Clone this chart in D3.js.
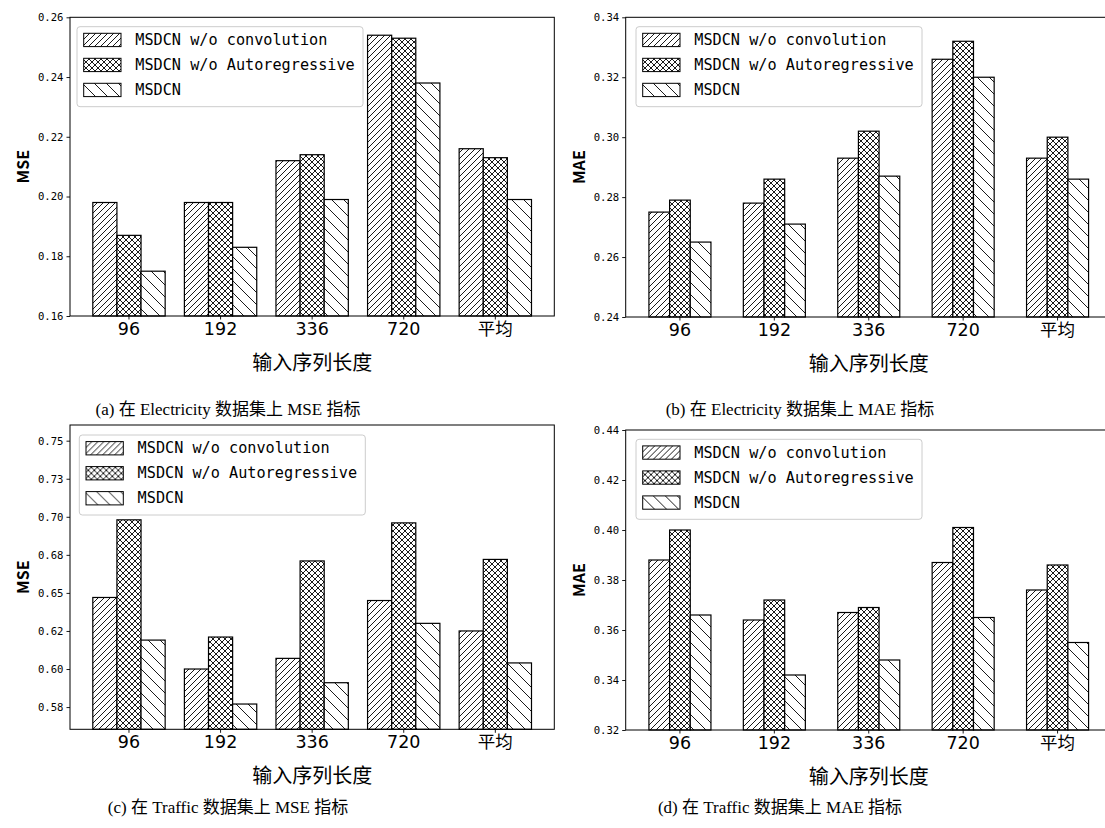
<!DOCTYPE html>
<html>
<head>
<meta charset="utf-8">
<script src="https://cdn.jsdelivr.net/npm/d3@7"></script>
<style>
  html, body { margin: 0; padding: 0; background: #fff; }
  svg { display: block; }
</style>
</head>
<body>
<div id="chart"></div>
<script>
// 数据
const categories = ['96', '192', '336', '720', '平均']
const seriesNames = ['MSDCN w/o convolution', 'MSDCN w/o Autoregressive', 'MSDCN']

// (a) Electricity MSE
const elecMseConv = [0.198, 0.198, 0.212, 0.254, 0.216]
const elecMseAr = [0.187, 0.198, 0.214, 0.253, 0.213]
const elecMseOurs = [0.175, 0.183, 0.199, 0.238, 0.199]
// (b) Electricity MAE
const elecMaeConv = [0.275, 0.278, 0.293, 0.326, 0.293]
const elecMaeAr = [0.279, 0.286, 0.302, 0.332, 0.300]
const elecMaeOurs = [0.265, 0.271, 0.287, 0.320, 0.286]
// (c) Traffic MSE
const trafMseConv = [0.647, 0.600, 0.607, 0.645, 0.625]
const trafMseAr = [0.698, 0.621, 0.671, 0.696, 0.672]
const trafMseOurs = [0.619, 0.577, 0.591, 0.630, 0.604]
// (d) Traffic MAE
const trafMaeConv = [0.388, 0.364, 0.367, 0.387, 0.376]
const trafMaeAr = [0.400, 0.372, 0.369, 0.401, 0.386]
const trafMaeOurs = [0.366, 0.342, 0.348, 0.365, 0.355]

// 刻度
const ticksElecMse = [0.16, 0.18, 0.20, 0.22, 0.24, 0.26]
const labelsElecMse = ['0.16', '0.18', '0.20', '0.22', '0.24', '0.26']
const ticksElecMae = [0.24, 0.26, 0.28, 0.30, 0.32, 0.34]
const labelsElecMae = ['0.24', '0.26', '0.28', '0.30', '0.32', '0.34']
const ticksTrafMse = [0.575, 0.600, 0.625, 0.650, 0.675, 0.700, 0.725, 0.750]
const labelsTrafMse = ['0.58', '0.60', '0.62', '0.65', '0.68', '0.70', '0.73', '0.75']
const ticksTrafMae = [0.32, 0.34, 0.36, 0.38, 0.40, 0.42, 0.44]
const labelsTrafMae = ['0.32', '0.34', '0.36', '0.38', '0.40', '0.42', '0.44']

const xTitle = '输入序列长度'
const captions = [
  '(a) 在 Electricity 数据集上 MSE 指标',
  '(b) 在 Electricity 数据集上 MAE 指标',
  '(c) 在 Traffic 数据集上 MSE 指标',
  '(d) 在 Traffic 数据集上 MAE 指标'
]

const W = 1105
const H = 828
const svg = d3.select('#chart').append('svg').attr('width', W).attr('height', H)

// 填充花纹
const defs = svg.append('defs')
function hatch(id, size, d) {
  const p = defs.append('pattern')
    .attr('id', id)
    .attr('patternUnits', 'userSpaceOnUse')
    .attr('width', size)
    .attr('height', size)
  p.append('rect').attr('width', size).attr('height', size).attr('fill', '#fff')
  p.append('path').attr('d', d).attr('stroke', '#000').attr('stroke-width', 0.9).attr('fill', 'none')
}
hatch('hFwd', 6, 'M-1.5,1.5L1.5,-1.5M0,6L6,0M4.5,7.5L7.5,4.5')
hatch('hCross', 6, 'M-1.5,1.5L1.5,-1.5M0,6L6,0M4.5,7.5L7.5,4.5M0,0L6,6M-1.5,4.5L1.5,7.5M4.5,-1.5L7.5,1.5')
hatch('hBack', 12, 'M0,0L12,12M-3,9L3,15M9,-3L15,3')
const fills = ['url(#hFwd)', 'url(#hCross)', 'url(#hBack)']

const panels = [
  { series: [elecMseConv, elecMseAr, elecMseOurs], domain: [0.16, 0.26], ticks: ticksElecMse, labels: labelsElecMse,
    yTitle: 'MSE', left: 70, right: 554.3, top: 17.3, bottom: 316, pi: 0.21, po: 0.249, legX: 7, legY: 9.4,
    cap: captions[0], capX: 228, capY: 415 },
  { series: [elecMaeConv, elecMaeAr, elecMaeOurs], domain: [0.24, 0.34], ticks: ticksElecMae, labels: labelsElecMae,
    yTitle: 'MAE', left: 625.7, right: 1111.8, top: 17.3, bottom: 317, pi: 0.343, po: 0.246, legX: 10.3, legY: 9.4,
    cap: captions[1], capX: 800, capY: 415 },
  { series: [trafMseConv, trafMseAr, trafMseOurs], domain: [0.5604, 0.7603], ticks: ticksTrafMse, labels: labelsTrafMse,
    yTitle: 'MSE', left: 70, right: 554.3, top: 425, bottom: 729.3, pi: 0.21, po: 0.249, legX: 9.3, legY: 10,
    cap: captions[2], capX: 228, capY: 813 },
  { series: [trafMaeConv, trafMaeAr, trafMaeOurs], domain: [0.32, 0.44], ticks: ticksTrafMae, labels: labelsTrafMae,
    yTitle: 'MAE', left: 625.7, right: 1111.8, top: 430, bottom: 730, pi: 0.343, po: 0.246, legX: 10.3, legY: 9.3,
    cap: captions[3], capX: 780, capY: 813 }
]

panels.forEach(drawPanel)

function drawPanel(cfg) {
  const g = svg.append('g')
  const y = d3.scaleLinear().domain(cfg.domain).range([cfg.bottom, cfg.top])
  const x0 = d3.scaleBand().domain(categories).range([cfg.left, cfg.right])
    .paddingInner(cfg.pi).paddingOuter(cfg.po)
  const x1 = d3.scaleBand().domain(seriesNames).range([0, x0.bandwidth()])

  const rows = []
  categories.forEach((c, i) => {
    seriesNames.forEach((s, k) => rows.push({ cat: c, name: s, k: k, v: cfg.series[k][i] }))
  })

  // 柱子
  g.append('g').selectAll('rect').data(rows).join('rect')
    .attr('x', d => x0(d.cat) + x1(d.name))
    .attr('y', d => y(d.v))
    .attr('width', x1.bandwidth())
    .attr('height', d => cfg.bottom - y(d.v))
    .attr('fill', d => fills[d.k])
    .attr('stroke', '#000')
    .attr('stroke-width', 1.2)

  // 边框
  g.append('rect')
    .attr('x', cfg.left).attr('y', cfg.top)
    .attr('width', cfg.right - cfg.left).attr('height', cfg.bottom - cfg.top)
    .attr('fill', 'none').attr('stroke', '#000').attr('stroke-width', 1)

  // y轴
  const yAxis = g.append('g').attr('transform', `translate(${cfg.left},0)`)
    .call(d3.axisLeft(y).tickValues(cfg.ticks).tickFormat((d, i) => cfg.labels[i])
      .tickSize(3.5).tickSizeOuter(0).tickPadding(3))
  yAxis.select('.domain').remove()
  yAxis.selectAll('text').attr('font-family', '"DejaVu Sans Mono", monospace')
    .attr('font-size', 10.6).attr('fill', '#000')
  yAxis.selectAll('line').attr('stroke', '#000').attr('stroke-width', 0.9)

  // x轴
  const xAxis = g.append('g').attr('transform', `translate(0,${cfg.bottom})`)
    .call(d3.axisBottom(x0).tickSize(3.5).tickSizeOuter(0).tickPadding(3))
  xAxis.select('.domain').remove()
  xAxis.selectAll('text').attr('font-family', '"DejaVu Sans", "Noto Sans CJK SC", sans-serif')
    .attr('font-size', 17.5).attr('fill', '#000')
  xAxis.selectAll('line').attr('stroke', '#000').attr('stroke-width', 0.9)

  // 坐标轴标题
  g.append('text')
    .attr('transform', `translate(${cfg.left - 48},${(cfg.top + cfg.bottom) / 2}) rotate(-90)`)
    .attr('text-anchor', 'middle')
    .attr('dominant-baseline', 'central')
    .attr('font-family', '"Noto Sans CJK SC", sans-serif')
    .attr('font-weight', 700)
    .attr('font-size', 16)
    .text(cfg.yTitle)

  g.append('text')
    .attr('x', (cfg.left + cfg.right) / 2)
    .attr('y', cfg.bottom + 54)
    .attr('text-anchor', 'middle')
    .attr('font-family', '"Noto Sans CJK SC", sans-serif')
    .attr('font-size', 20)
    .text(xTitle)

  // 图例
  const leg = g.append('g').attr('transform', `translate(${cfg.left + cfg.legX},${cfg.top + cfg.legY})`)
  leg.append('rect')
    .attr('width', 286).attr('height', 80).attr('rx', 3)
    .attr('fill', '#fff').attr('fill-opacity', 0.8)
    .attr('stroke', '#ccc').attr('stroke-width', 1)
  const item = leg.selectAll('g.item').data(seriesNames).join('g')
    .attr('class', 'item')
    .attr('transform', (d, i) => `translate(0,${13.3 + i * 25})`)
  item.append('rect')
    .attr('x', 6.7).attr('y', -6.7)
    .attr('width', 37.3).attr('height', 13.3)
    .attr('fill', (d, i) => fills[i])
    .attr('stroke', '#000').attr('stroke-width', 1)
  item.append('text')
    .attr('x', 58.3)
    .attr('dominant-baseline', 'central')
    .attr('font-family', '"DejaVu Sans Mono", monospace')
    .attr('font-size', 15.2)
    .text(d => d)

  // 子图标题
  svg.append('text')
    .attr('x', cfg.capX)
    .attr('y', cfg.capY)
    .attr('text-anchor', 'middle')
    .attr('font-family', '"Liberation Serif", "Noto Sans CJK SC", serif')
    .attr('font-size', 17)
    .text(cfg.cap)
}
</script>
</body>
</html>
